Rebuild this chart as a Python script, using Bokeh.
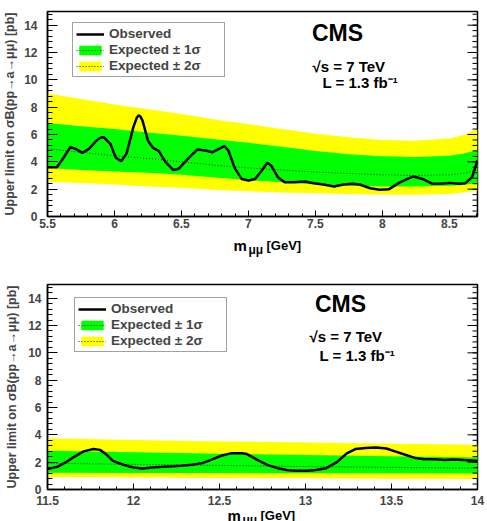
from bokeh.plotting import figure
from bokeh.models import FixedTicker, Legend, LegendItem, Label
from bokeh.layouts import column
from bokeh.embed import file_html
from bokeh.resources import INLINE
import numpy as np

FONT = "Liberation Sans"

# ---- 5.5 - 8.7 GeV window -------------------------------------------------
band_mass_a = [5.5, 5.75, 6.0, 6.25, 6.5, 6.75, 7.0, 7.25, 7.5, 7.75, 8.0, 8.25, 8.5, 8.6, 8.71]
exp2_hi_a = [9.0, 8.6, 8.2, 7.85, 7.5, 7.1, 6.75, 6.4, 6.05, 5.8, 5.6, 5.55, 5.7, 5.95, 6.4]
exp1_hi_a = [6.85, 6.6, 6.4, 6.15, 5.9, 5.65, 5.4, 5.1, 4.8, 4.55, 4.4, 4.35, 4.45, 4.6, 4.85]
exp_med_a = [4.95, 4.7, 4.45, 4.25, 4.0, 3.75, 3.55, 3.4, 3.25, 3.15, 3.05, 3.0, 3.05, 3.15, 3.4]
exp1_lo_a = [3.55, 3.4, 3.3, 3.2, 3.05, 2.85, 2.65, 2.5, 2.35, 2.25, 2.2, 2.2, 2.25, 2.3, 2.45]
exp2_lo_a = [2.55, 2.45, 2.35, 2.2, 2.1, 1.95, 1.85, 1.75, 1.7, 1.65, 1.6, 1.6, 1.65, 1.75, 1.9]

obs_mass_a = [5.5, 5.57, 5.62, 5.67, 5.71, 5.76, 5.81, 5.87, 5.90, 5.92, 5.97, 6.01, 6.05,
              6.09, 6.14, 6.165, 6.18, 6.195, 6.21, 6.25, 6.29, 6.33, 6.38, 6.44, 6.48,
              6.56, 6.62, 6.68, 6.73, 6.78, 6.82, 6.85, 6.90, 6.95, 7.0, 7.05, 7.10,
              7.14, 7.17, 7.22, 7.27, 7.34, 7.42, 7.49, 7.56, 7.64, 7.71, 7.78, 7.83,
              7.91, 7.98, 8.05, 8.13, 8.23, 8.30, 8.37, 8.42, 8.5, 8.57, 8.62, 8.67, 8.71]
obs_limit_a = [3.6, 3.6, 4.3, 5.07, 4.95, 4.66, 4.95, 5.6, 5.78, 5.8, 5.3, 4.3, 4.05,
               4.6, 6.5, 7.2, 7.4, 7.3, 7.0, 5.55, 5.0, 4.8, 4.0, 3.4, 3.5,
               4.35, 4.9, 4.83, 4.7, 4.95, 5.15, 4.83, 3.5, 2.75, 2.63, 2.75, 3.37,
               3.93, 3.73, 2.88, 2.5, 2.5, 2.56, 2.44, 2.34, 2.2, 2.34, 2.39, 2.34,
               2.07, 1.95, 2.0, 2.5, 2.93, 2.75, 2.4, 2.39, 2.46, 2.39, 2.44, 2.88, 4.1]

xticks_a = [5.5, 6, 6.5, 7, 7.5, 8, 8.5]
xlabels_a = ["5.5", "6", "6.5", "7", "7.5", "8", "8.5"]

# ---- 11.5 - 14 GeV window -------------------------------------------------
band_mass_b = [11.5, 12.0, 12.5, 13.0, 13.5, 14.0]
exp2_hi_b = [3.75, 3.62, 3.52, 3.44, 3.35, 3.27]
exp1_hi_b = [2.84, 2.72, 2.62, 2.52, 2.44, 2.35]
exp_med_b = [1.92, 1.84, 1.76, 1.68, 1.62, 1.56]
exp1_lo_b = [1.22, 1.21, 1.2, 1.19, 1.18, 1.17]
exp2_lo_b = [0.92, 0.88, 0.85, 0.82, 0.79, 0.77]

obs_mass_b = [11.5, 11.557, 11.605, 11.65, 11.71, 11.767, 11.805, 11.84, 11.88, 11.94,
              12.0, 12.05, 12.11, 12.17, 12.225, 12.28, 12.34, 12.40, 12.45, 12.51,
              12.57, 12.63, 12.66, 12.72, 12.78, 12.84, 12.89, 12.95, 13.01, 13.06,
              13.12, 13.18, 13.24, 13.29, 13.35, 13.41, 13.47, 13.52, 13.58, 13.64,
              13.69, 13.75, 13.81, 13.86, 13.92, 14.0]
obs_limit_b = [1.49, 1.66, 1.98, 2.35, 2.79, 2.96, 2.9, 2.59, 2.1, 1.81,
               1.61, 1.54, 1.61, 1.66, 1.71, 1.73, 1.81, 1.93, 2.17, 2.47,
               2.66, 2.66, 2.59, 2.17, 1.78, 1.56, 1.42, 1.37, 1.37, 1.42,
               1.56, 1.98, 2.64, 2.96, 3.03, 3.08, 3.0, 2.79, 2.54, 2.3,
               2.22, 2.22, 2.15, 2.2, 2.15, 2.08]

xticks_b = [11.5, 12, 12.5, 13, 13.5, 14]
xlabels_b = ["11.5", "12", "12.5", "13", "13.5", "14"]

yticks = [0, 2, 4, 6, 8, 10, 12, 14]
ylabels = ["0", "2", "4", "6", "8", "10", "12", "14"]

Y_TITLE = "Upper limit on \u03c3B(pp\u2192a\u2192\u03bc\u03bc) [pb]"
TEXT = dict(x_units="screen", y_units="screen", text_font=FONT,
            text_font_style="bold", text_color="black")


def panel(xr, height, borders, mass, e2hi, e1hi, emed, e1lo, e2lo, om, ol,
          xticks, xlabels, xl_standoff, yl_standoff, ytitle_standoff,
          leg_loc, cms_pos, sqrt_pos, lumi_pos):
    left, right, top, bottom = borders
    p = figure(width=487, height=height, x_range=xr, y_range=(0, 15),
               output_backend="svg", toolbar_location=None,
               min_border_left=left, min_border_right=right,
               min_border_top=top, min_border_bottom=bottom,
               background_fill_color="white", border_fill_color="white")
    p.xgrid.visible = False
    p.ygrid.visible = False
    p.outline_line_color = "black"
    p.outline_line_width = 1.5

    r2 = p.varea(x=mass, y1=e2lo, y2=e2hi, fill_color="#ffff00")
    r1 = p.varea(x=mass, y1=e1lo, y2=e1hi, fill_color="#00ff00")
    rm = p.line(x=mass, y=emed, line_color="#2a2a2a", line_width=1, line_dash="1 2")
    ro = p.line(x=om, y=ol, line_color="black", line_width=2.5)

    # x axis: ticks inside the frame, labels below
    xminor = list(np.round(np.arange(xr[0], xr[1] + 1e-9, 0.1), 2))
    xa = p.xaxis[0]
    xa.ticker = FixedTicker(ticks=xticks, minor_ticks=xminor)
    xa.major_label_overrides = {t: s for t, s in zip(xticks, xlabels)}
    xa.major_tick_in = 6
    xa.major_tick_out = 0
    xa.minor_tick_in = 3
    xa.minor_tick_out = 0
    xa.axis_line_width = 1.5
    xa.major_label_standoff = xl_standoff
    xa.major_label_text_font = FONT
    xa.major_label_text_font_style = "bold"
    xa.major_label_text_font_size = "12px"

    yminor = list(np.round(np.arange(0, 15.01, 0.4), 2))
    ya = p.yaxis[0]
    ya.ticker = FixedTicker(ticks=yticks, minor_ticks=yminor)
    ya.major_label_overrides = {t: s for t, s in zip(yticks, ylabels)}
    ya.major_tick_in = 10
    ya.major_tick_out = 0
    ya.minor_tick_in = 5
    ya.minor_tick_out = 0
    ya.axis_line_width = 1.5
    ya.major_label_standoff = yl_standoff
    ya.major_label_text_font = FONT
    ya.major_label_text_font_style = "bold"
    ya.major_label_text_font_size = "12px"
    ya.axis_label = Y_TITLE
    ya.axis_label_standoff = ytitle_standoff
    ya.axis_label_text_font = FONT
    ya.axis_label_text_font_style = "bold"
    ya.axis_label_text_font_size = "12.5px"

    # mirrored y ticks along the right edge of the frame
    p.ray(x=[xr[1]] * len(yticks), y=yticks, length=10, length_units="screen",
          angle=np.pi, line_color="black", line_width=1)
    p.ray(x=[xr[1]] * len(yminor), y=yminor, length=5, length_units="screen",
          angle=np.pi, line_color="black", line_width=1)

    legend = Legend(items=[
        LegendItem(label="Observed", renderers=[ro]),
        LegendItem(label="Expected \u00b1 1\u03c3", renderers=[r1, rm]),
        LegendItem(label="Expected \u00b1 2\u03c3", renderers=[r2, rm]),
    ], location=leg_loc, padding=3, spacing=1, margin=0,
        glyph_width=28, glyph_height=12, label_height=12, label_width=112,
        label_standoff=5, label_text_font=FONT, label_text_font_style="bold",
        label_text_font_size="13.5px", border_line_color="#444444",
        border_line_width=1.5, background_fill_color="white",
        background_fill_alpha=1)
    p.add_layout(legend)

    p.add_layout(Label(x=cms_pos[0], y=cms_pos[1], text="CMS", text_align="center",
                       text_baseline="middle", text_font_size="23px", **TEXT))
    p.add_layout(Label(x=sqrt_pos[0], y=sqrt_pos[1], text="\u221as = 7 TeV",
                       text_baseline="middle", text_font_size="15px", **TEXT))
    p.add_layout(Label(x=lumi_pos[0], y=lumi_pos[1], text="L = 1.3 fb\u207b\u00b9",
                       text_baseline="middle", text_font_size="15px", **TEXT))
    return p


def x_title(height, x0, y0):
    # strip under a panel holding the m_{mu mu} [GeV] axis title;
    # x0 is measured from the left edge of the panel frame above
    t = figure(width=487, height=height, x_range=(0, 487), y_range=(0, height),
               x_axis_type=None, y_axis_type=None, output_backend="svg",
               toolbar_location=None, min_border=0, outline_line_color=None,
               background_fill_color="white", border_fill_color="white")
    t.grid.visible = False
    t.add_layout(Label(x=x0, y=y0, text="m", text_baseline="middle",
                       text_font_size="15px", **TEXT))
    t.add_layout(Label(x=x0 + 15, y=y0 - 4, text="\u03bc\u03bc", text_baseline="middle",
                       text_font_size="12px", **TEXT))
    t.add_layout(Label(x=x0 + 33, y=y0, text="[GeV]", text_baseline="middle",
                       text_font_size="13px", **TEXT))
    return t


top = panel((5.5, 8.71), 233, (43, 8, 11, 17),
            band_mass_a, exp2_hi_a, exp1_hi_a, exp_med_a, exp1_lo_a, exp2_lo_a,
            obs_mass_a, obs_limit_a, xticks_a, xlabels_a, 2, 10, 4,
            (25, 139), (290, 184), (265, 150), (275, 134))
top_title = x_title(27, 186, 15)
bottom = panel((11.5, 14.0), 249, (40, 10, 24, 20),
               band_mass_b, exp2_hi_b, exp1_hi_b, exp_med_b, exp1_lo_b, exp2_lo_b,
               obs_mass_b, obs_limit_b, xticks_b, xlabels_b, 6, 6, 6,
               (27, 137), (293, 186), (262, 153), (272, 134))
bottom_title = x_title(12, 180, 6)

layout = column(top, top_title, bottom, bottom_title, spacing=0)
open("out.html", "w").write(file_html(layout, INLINE))
